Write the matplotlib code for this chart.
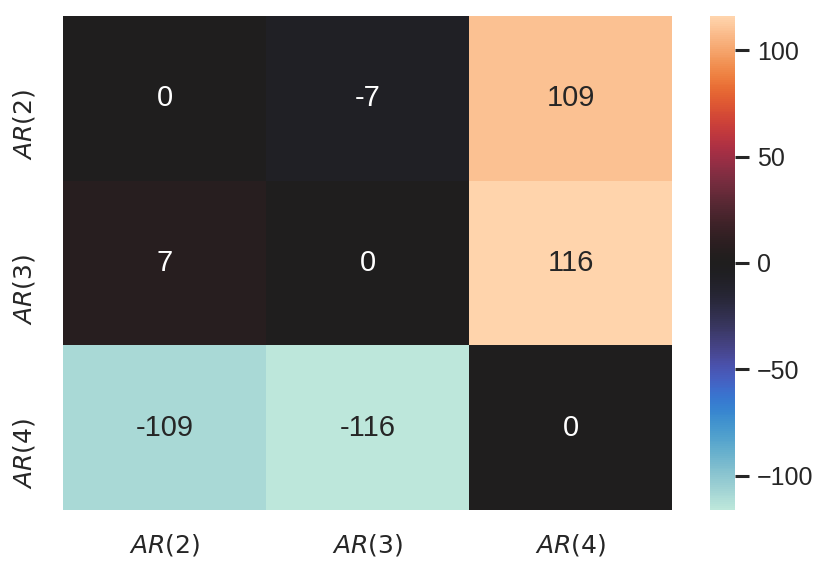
import numpy as np
import matplotlib
matplotlib.use("Agg")
import matplotlib.pyplot as plt
import matplotlib.transforms as mtransforms
import seaborn as sns

labels = [r"$AR(2)$", r"$AR(3)$", r"$AR(4)$"]
values = [[0, -7, 109],
          [7, 0, 116],
          [-109, -116, 0]]
cbar_ticks = [-100, -50, 0, 50, 100]

sns.set_theme(style="white")
plt.rcParams['font.family'] = ['Liberation Sans', 'DejaVu Sans']

fig = plt.figure(figsize=(8.3, 5.74), dpi=100)
ax = fig.add_axes([63/830, 1-510/574, (672-63)/830, (510-16)/574])
cax = fig.add_axes([710/830, 1-510/574, (735-710)/830, (510-16)/574])

data = np.array(values)
sns.heatmap(data, ax=ax, cbar_ax=cax, cmap="icefire", center=0, annot=True, fmt="d",
            annot_kws={"fontsize": 21}, xticklabels=labels, yticklabels=labels)

ax.tick_params(axis='x', length=0, labelsize=18, pad=16)
ax.tick_params(axis='y', length=0, labelsize=18, pad=19)
offset = mtransforms.ScaledTranslation(0, -26/100, fig.dpi_scale_trans)
for t in ax.get_yticklabels():
    t.set_rotation(90)
    t.set_va('center')
    t.set_transform(t.get_transform() + offset)
cax.set_yticks(cbar_ticks)
cax.tick_params(axis='y', length=10, width=2.2, labelsize=18, pad=6, color='#262626', right=True)
for s in cax.spines.values():
    s.set_visible(False)

fig.savefig("out.png", dpi=100)
